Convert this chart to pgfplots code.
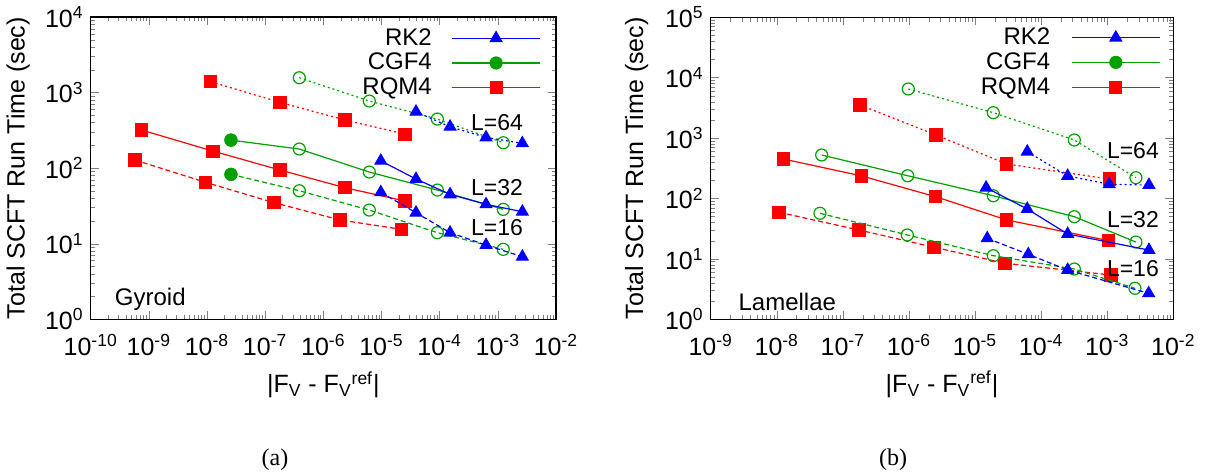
\documentclass[border=0pt]{standalone}
\usepackage{fontspec}
\setmainfont{Liberation Sans}
\newfontfamily\seriffont{Liberation Serif}
\usepackage{pgfplots}
\pgfplotsset{compat=1.18}
\definecolor{cb}{RGB}{0,0,255}
\definecolor{cg}{RGB}{0,160,0}
\definecolor{cr}{RGB}{255,0,0}
\tikzset{
  srk/.style={color=cb, line width=0.6pt, mark=triangle*, mark size=3.3pt, mark options={solid}},
  scg/.style={color=cg, line width=0.6pt, mark=o, mark size=3pt, mark options={solid, line width=0.6pt}},
  sfc/.style={color=cg, line width=0.6pt, mark=*, mark size=3pt, mark options={solid}},
  srq/.style={color=cr, line width=0.6pt, mark=square*, mark size=3pt, mark options={solid}},
  l64/.style={dash pattern=on 1pt off 1.5pt},
  l32/.style={solid},
  l16/.style={dash pattern=on 2.5pt off 1.5pt},
  lab/.style={font=\fontsize{11.5}{14}\selectfont},
}
\begin{document}
\begin{tikzpicture}[font=\fontsize{12}{14}\selectfont]
\useasboundingbox (-45.35pt,-78.35pt) rectangle (559.65pt,159.65pt);
% ---------------- (a) Gyroid ----------------
\begin{axis}[xmode=log, ymode=log, scale only axis, clip mode=individual,
  tick align=inside, major tick length=4pt, minor tick length=2.2pt,
  axis line style={line width=0.6pt},
  tick label style={font=\fontsize{12.5}{15}\selectfont},
  xticklabel style={yshift=-4pt},
  xlabel={|F\textsubscript{V} - F\textsubscript{V}\textsuperscript{ref}|},
  ylabel={Total SCFT Run Time (sec)},
  xlabel style={at={(axis description cs:0.5,-0.243)}, anchor=base, font=\fontsize{12.5}{15}\selectfont},
  ylabel style={at={(axis description cs:-0.156,0.5)}, anchor=center, font=\fontsize{12.5}{15}\selectfont},
  legend style={draw=none, fill=none, anchor=north east, font=\fontsize{12}{14}\selectfont,
    inner sep=0pt, row sep=-1.5pt, column sep=7.85pt, at={(axis description cs:0.968,0.977)}},
  legend cell align=right, legend plot pos=right,
  legend image code/.code={\draw[mark repeat=2,mark phase=2,#1] plot coordinates {(0pt,0pt) (22pt,0pt) (44pt,0pt)};},
  at={(0pt,0pt)}, width=232.65pt, height=151.15pt,
  xmin=1e-10, xmax=1e-2, ymin=1, ymax=1e4,
  xtick={1e-10,1e-9,1e-8,1e-7,1e-6,1e-5,1e-4,1e-3,1e-2},
  xticklabels={10\textsuperscript{-10},10\textsuperscript{-9},10\textsuperscript{-8},10\textsuperscript{-7},10\textsuperscript{-6},10\textsuperscript{-5},10\textsuperscript{-4},10\textsuperscript{-3},10\textsuperscript{-2}},
  ytick={1,10,100,1000,10000},
  yticklabels={10\textsuperscript{0},10\textsuperscript{1},10\textsuperscript{2},10\textsuperscript{3},10\textsuperscript{4}},
]
\addlegendimage{srk,solid}\addlegendentry{RK2}
\addlegendimage{sfc,solid}\addlegendentry{CGF4}
\addlegendimage{srq,solid}\addlegendentry{RQM4}
% RQM4
\addplot[srq,l64,forget plot] coordinates {(1.16e-8,1390) (1.8e-7,742) (2.36e-6,433) (2.54e-5,282)};
\addplot[srq,l32,forget plot] coordinates {(7.53e-10,319) (1.27e-8,168) (1.8e-7,94.4) (2.36e-6,55.1) (2.54e-5,36.7)};
\addplot[srq,l16,forget plot] coordinates {(5.78e-10,128) (9.49e-9,64.9) (1.42e-7,34.9) (1.94e-6,20.6) (2.22e-5,15.5)};
% CGF4
\addplot[scg,l64,forget plot] coordinates {(3.86e-7,1570) (6.17e-6,773) (9.12e-5,446) (1.24e-3,217)};
\addplot[scg,l32,forget plot] coordinates {(2.58e-8,235) (3.86e-7,179) (6.17e-6,88.8) (9.12e-5,51.3) (1.24e-3,28.5)};
\addplot[scg,l16,forget plot] coordinates {(2.58e-8,82.8) (3.86e-7,50.2) (6.17e-6,27.9) (9.12e-5,14.0) (1.24e-3,8.43)};
\addplot[sfc,only marks,forget plot] coordinates {(2.58e-8,235) (2.58e-8,82.8)};
% RK2
\addplot[srk,l64,forget plot] coordinates {(3.92e-5,557) (1.51e-4,353) (6.27e-4,255) (2.64e-3,213)};
\addplot[srk,l32,forget plot] coordinates {(9.73e-6,125) (3.92e-5,71.8) (1.51e-4,45) (6.27e-4,33.2) (2.64e-3,26.5)};
\addplot[srk,l16,forget plot] coordinates {(9.73e-6,47.9) (3.92e-5,25.7) (1.51e-4,14.0) (6.27e-4,9.6) (2.64e-3,6.73)};
\node[lab,anchor=base east] at (rel axis cs:0.944,0.626) {L=64};
\node[lab,anchor=base east] at (rel axis cs:0.944,0.411) {L=32};
\node[lab,anchor=base east] at (rel axis cs:0.944,0.276) {L=16};
\node[anchor=base west] at (rel axis cs:0.037,0.044) {Gyroid};
\end{axis}
% ---------------- (b) Lamellae ----------------
\begin{axis}[xmode=log, ymode=log, scale only axis, clip mode=individual,
  tick align=inside, major tick length=4pt, minor tick length=2.2pt,
  axis line style={line width=0.6pt},
  tick label style={font=\fontsize{12.5}{15}\selectfont},
  xticklabel style={yshift=-4pt},
  xlabel={|F\textsubscript{V} - F\textsubscript{V}\textsuperscript{ref}|},
  ylabel={Total SCFT Run Time (sec)},
  xlabel style={at={(axis description cs:0.5,-0.243)}, anchor=base, font=\fontsize{12.5}{15}\selectfont},
  ylabel style={at={(axis description cs:-0.16,0.5)}, anchor=center, font=\fontsize{12.5}{15}\selectfont},
  legend style={draw=none, fill=none, anchor=north east, font=\fontsize{12}{14}\selectfont,
    inner sep=0pt, row sep=-1.5pt, column sep=8.5pt, at={(axis description cs:0.973,0.98)}},
  legend cell align=right, legend plot pos=right,
  legend image code/.code={\draw[mark repeat=2,mark phase=2,#1] plot coordinates {(0pt,0pt) (22pt,0pt) (44pt,0pt)};},
  at={(310pt,0pt)}, width=231.3pt, height=151pt,
  xmin=1e-9, xmax=1e-2, ymin=1, ymax=1e5,
  xtick={1e-9,1e-8,1e-7,1e-6,1e-5,1e-4,1e-3,1e-2},
  xticklabels={10\textsuperscript{-9},10\textsuperscript{-8},10\textsuperscript{-7},10\textsuperscript{-6},10\textsuperscript{-5},10\textsuperscript{-4},10\textsuperscript{-3},10\textsuperscript{-2}},
  ytick={1,10,100,1000,10000,100000},
  yticklabels={10\textsuperscript{0},10\textsuperscript{1},10\textsuperscript{2},10\textsuperscript{3},10\textsuperscript{4},10\textsuperscript{5}},
]
\addlegendimage{srk,solid}\addlegendentry{RK2}
\addlegendimage{sfc,solid}\addlegendentry{CGF4}
\addlegendimage{srq,solid}\addlegendentry{RQM4}
% RQM4
\addplot[srq,l64,forget plot] coordinates {(1.82e-7,3532) (2.57e-6,1125) (3.01e-5,372) (1.07e-3,210)};
\addplot[srq,l32,forget plot] coordinates {(1.26e-8,451) (1.93e-7,236) (2.54e-6,107) (3.01e-5,44.1) (1.06e-3,20.0)};
\addplot[srq,l16,forget plot] coordinates {(1.08e-8,59.1) (1.75e-7,30.1) (2.39e-6,15.6) (2.84e-5,8.46) (1.14e-3,5.41)};
% CGF4
\addplot[scg,l64,forget plot] coordinates {(9.77e-7,6500) (1.89e-5,2635) (3.18e-4,930) (2.72e-3,221)};
\addplot[scg,l32,forget plot] coordinates {(4.78e-8,525) (9.57e-7,238) (1.89e-5,111) (3.18e-4,50) (2.72e-3,19.0)};
\addplot[scg,l16,forget plot] coordinates {(4.5e-8,56.9) (9.44e-7,24.9) (1.89e-5,11.3) (3.18e-4,6.8) (2.63e-3,3.26)};
% RK2
\addplot[srk,l64,forget plot] coordinates {(6.17e-5,596) (2.52e-4,236) (1.07e-3,172) (4.28e-3,167)};
\addplot[srk,l32,forget plot] coordinates {(1.47e-5,151) (6.17e-5,67) (2.52e-4,25.8) (4.28e-3,14.0)};
\addplot[srk,l16,forget plot] coordinates {(1.53e-5,21.9) (6.4e-5,11.9) (2.52e-4,6.55) (4.24e-3,2.69)};
\node[lab,anchor=base east] at (rel axis cs:0.984,0.531) {L=64};
\node[lab,anchor=base east] at (rel axis cs:0.984,0.305) {L=32};
\node[lab,anchor=base east] at (rel axis cs:0.984,0.141) {L=16};
\node[anchor=base west] at (rel axis cs:0.045,0.029) {Lamellae};
\end{axis}
\node[font=\seriffont\fontsize{12}{14}\selectfont] at (92.15pt,-70.35pt) {(a)};
\node[font=\seriffont\fontsize{12}{14}\selectfont] at (401.15pt,-70.35pt) {(b)};
\end{tikzpicture}
\end{document}
